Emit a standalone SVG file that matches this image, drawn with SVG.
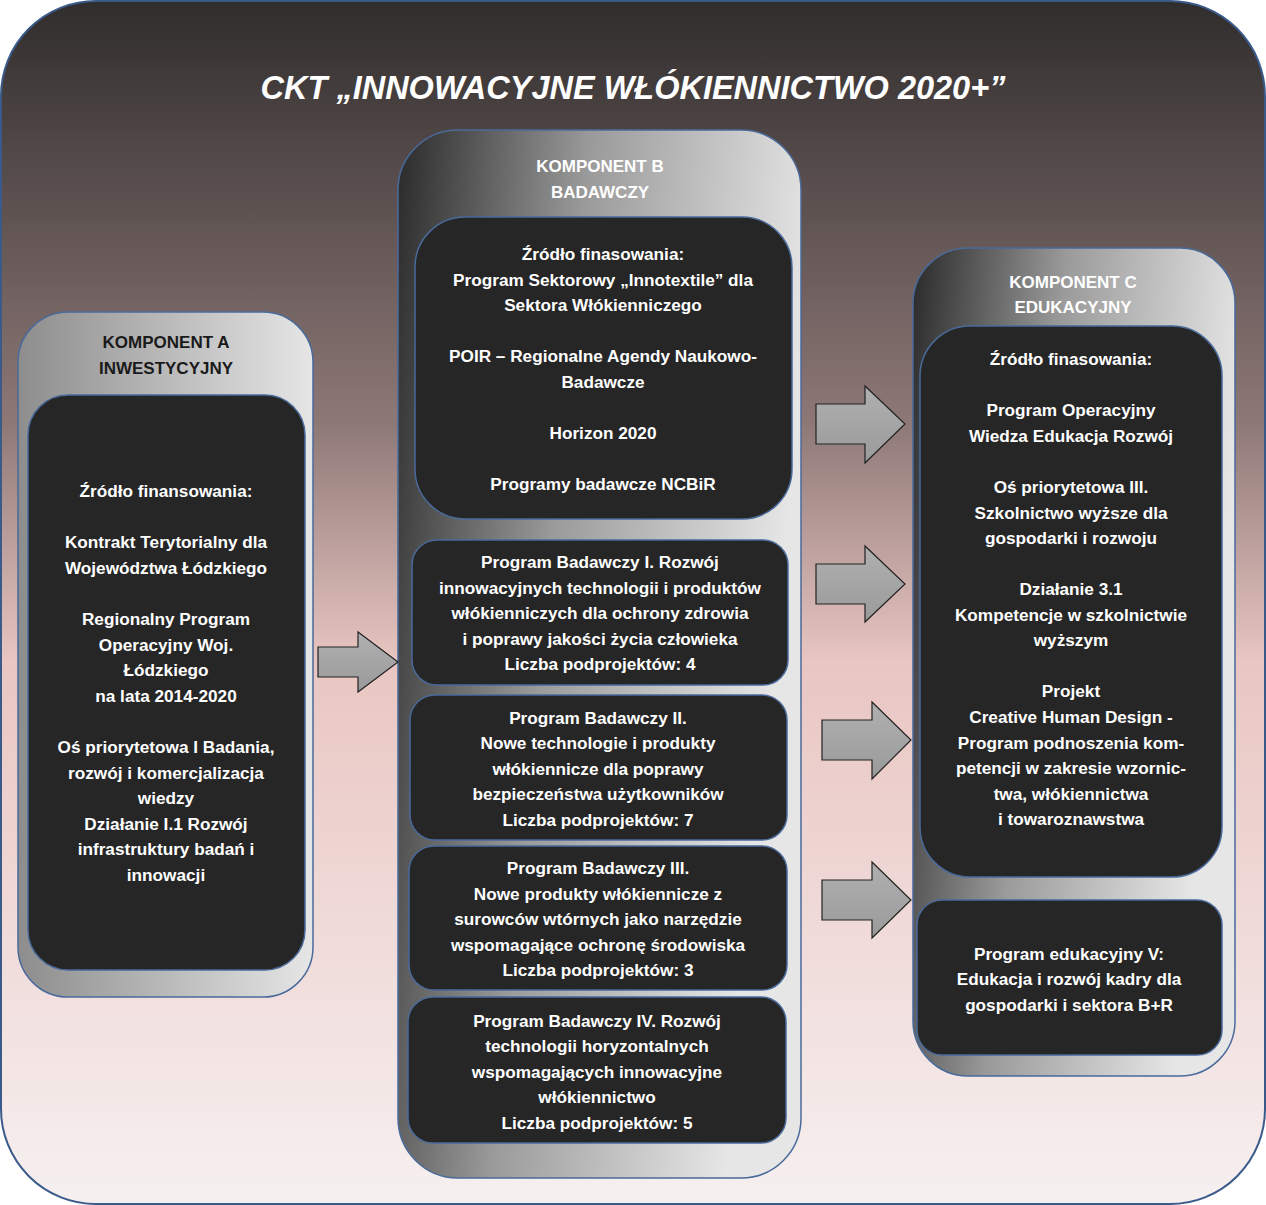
<svg xmlns="http://www.w3.org/2000/svg" width="1266" height="1205" viewBox="0 0 1266 1205">
<defs>
<linearGradient id="bg" x1="0" y1="0" x2="0" y2="1">
<stop offset="0" stop-color="#302d2d"/><stop offset="0.35" stop-color="#8d7876"/><stop offset="0.55" stop-color="#e9c6c2"/><stop offset="1" stop-color="#f6f0f0"/>
</linearGradient>
<linearGradient id="pan" x1="0" y1="0" x2="1" y2="0.25">
<stop offset="0" stop-color="#2a2a2a"/><stop offset="0.45" stop-color="#9a9a9a"/><stop offset="1" stop-color="#e6e6e6"/>
</linearGradient>
<linearGradient id="panA" x1="0" y1="0" x2="1" y2="0">
<stop offset="0" stop-color="#8d8d8d"/><stop offset="1" stop-color="#e6e6e6"/>
</linearGradient>
<linearGradient id="arr" x1="0" y1="0" x2="0" y2="1">
<stop offset="0" stop-color="#b0b0b0"/><stop offset="1" stop-color="#9a9a9a"/>
</linearGradient>
</defs>
<style>
.panel{stroke:#4a6a9a;stroke-width:1.5}
.box{fill:#262626;stroke:#4a6a9a;stroke-width:1.5}
.ph{font-family:"Liberation Sans",Arial,sans-serif;font-weight:bold;font-size:17px;text-anchor:middle;fill:#1a1a1a}
.ph2{font-family:"Liberation Sans",Arial,sans-serif;font-weight:bold;font-size:17px;text-anchor:middle;fill:#ffffff}
.t{font-family:"Liberation Sans",Arial,sans-serif;font-weight:bold;font-size:17.2px;text-anchor:middle;fill:#ffffff}
.arrow{fill:url(#arr);stroke:#222;stroke-width:1.2}
</style>
<rect x="1" y="1" width="1264" height="1203" rx="95" fill="url(#bg)" stroke="#3a5a8a" stroke-width="2"/>
<text x="633" y="99" font-family="Liberation Sans,Arial,sans-serif" font-weight="bold" font-style="italic" font-size="32.5" fill="#ffffff" text-anchor="middle">CKT „INNOWACYJNE WŁÓKIENNICTWO 2020+”</text>

<g id="compA">
<rect class="panel" x="18" y="312" width="295" height="685" rx="50" fill="url(#panA)"/>
<text class="ph" x="166" y="348">KOMPONENT A</text>
<text class="ph" x="166" y="374">INWESTYCYJNY</text>
<rect class="box" x="28" y="395" width="277" height="575" rx="40"/>
<text class="t" x="166" y="497">Źródło finansowania:</text>
<text class="t" x="166" y="548">Kontrakt Terytorialny dla</text>
<text class="t" x="166" y="574">Województwa Łódzkiego</text>
<text class="t" x="166" y="625">Regionalny Program</text>
<text class="t" x="166" y="651">Operacyjny Woj.</text>
<text class="t" x="166" y="676">Łódzkiego</text>
<text class="t" x="166" y="702">na lata 2014-2020</text>
<text class="t" x="166" y="753">Oś priorytetowa I Badania,</text>
<text class="t" x="166" y="779">rozwój i komercjalizacja</text>
<text class="t" x="166" y="804">wiedzy</text>
<text class="t" x="166" y="830">Działanie I.1 Rozwój</text>
<text class="t" x="166" y="855">infrastruktury badań i</text>
<text class="t" x="166" y="881">innowacji</text>
</g>

<g id="compB">
<rect class="panel" x="398" y="130" width="403" height="1048" rx="60" fill="url(#pan)"/>
<text class="ph2" x="600" y="172">KOMPONENT B</text>
<text class="ph2" x="600" y="198">BADAWCZY</text>
<g id="b0"><rect class="box" x="415" y="217" width="377" height="302" rx="50"/>
<text class="t" x="603" y="260">Źródło finasowania:</text>
<text class="t" x="603" y="286">Program Sektorowy „Innotextile” dla</text>
<text class="t" x="603" y="311">Sektora Włókienniczego</text>
<text class="t" x="603" y="362">POIR – Regionalne Agendy Naukowo-</text>
<text class="t" x="603" y="388">Badawcze</text>
<text class="t" x="603" y="439">Horizon 2020</text>
<text class="t" x="603" y="490">Programy badawcze NCBiR</text></g>
<g id="b1"><rect class="box" x="412" y="540" width="376" height="145" rx="25"/>
<text class="t" x="600" y="568">Program Badawczy  I. Rozwój</text>
<text class="t" x="600" y="594">innowacyjnych technologii i produktów</text>
<text class="t" x="600" y="619">włókienniczych dla ochrony zdrowia</text>
<text class="t" x="600" y="645">i poprawy jakości życia człowieka</text>
<text class="t" x="600" y="670">Liczba podprojektów: 4</text></g>
<g id="b2"><rect class="box" x="410" y="695" width="377" height="145" rx="25"/>
<text class="t" x="598" y="724">Program  Badawczy II.</text>
<text class="t" x="598" y="749">Nowe technologie i produkty</text>
<text class="t" x="598" y="775">włókiennicze dla poprawy</text>
<text class="t" x="598" y="800">bezpieczeństwa  użytkowników</text>
<text class="t" x="598" y="826">Liczba podprojektów: 7</text></g>
<g id="b3"><rect class="box" x="409" y="846" width="378" height="144" rx="25"/>
<text class="t" x="598" y="874">Program Badawczy III.</text>
<text class="t" x="598" y="900">Nowe produkty włókiennicze z</text>
<text class="t" x="598" y="925">surowców wtórnych jako narzędzie</text>
<text class="t" x="598" y="951">wspomagające ochronę środowiska</text>
<text class="t" x="598" y="976">Liczba podprojektów: 3</text></g>
<g id="b4"><rect class="box" x="408" y="997" width="378" height="146" rx="25"/>
<text class="t" x="597" y="1027">Program Badawczy IV. Rozwój</text>
<text class="t" x="597" y="1052">technologii horyzontalnych</text>
<text class="t" x="597" y="1078">wspomagających innowacyjne</text>
<text class="t" x="597" y="1103">włókiennictwo</text>
<text class="t" x="597" y="1129">Liczba podprojektów: 5</text></g>
</g>

<g id="compC">
<rect class="panel" x="913" y="248" width="322" height="828" rx="55" fill="url(#pan)"/>
<text class="ph2" x="1073" y="288">KOMPONENT C</text>
<text class="ph2" x="1073" y="313">EDUKACYJNY</text>
<g id="c0"><rect class="box" x="920" y="326" width="302" height="551" rx="50"/>
<text class="t" x="1071" y="365">Źródło finasowania:</text>
<text class="t" x="1071" y="416">Program Operacyjny</text>
<text class="t" x="1071" y="442">Wiedza Edukacja Rozwój</text>
<text class="t" x="1071" y="493">Oś priorytetowa III.</text>
<text class="t" x="1071" y="519">Szkolnictwo wyższe dla</text>
<text class="t" x="1071" y="544">gospodarki i rozwoju</text>
<text class="t" x="1071" y="595">Działanie 3.1</text>
<text class="t" x="1071" y="621">Kompetencje w szkolnictwie</text>
<text class="t" x="1071" y="646">wyższym</text>
<text class="t" x="1071" y="697">Projekt</text>
<text class="t" x="1071" y="723">Creative Human Design -</text>
<text class="t" x="1071" y="749">Program podnoszenia kom-</text>
<text class="t" x="1071" y="774">petencji w zakresie wzornic-</text>
<text class="t" x="1071" y="800">twa, włókiennictwa</text>
<text class="t" x="1071" y="825">i towaroznawstwa</text></g>
<g id="c1"><rect class="box" x="917" y="900" width="305" height="155" rx="25"/>
<text class="t" x="1069" y="960">Program edukacyjny V:</text>
<text class="t" x="1069" y="985">Edukacja i rozwój kadry dla</text>
<text class="t" x="1069" y="1011">gospodarki  i  sektora B+R</text></g>
</g>

<g id="connectors">
<polygon class="arrow" points="318,647 358,647 358,632 398,662 358,692 358,677 318,677"/>
<polygon class="arrow" points="816,404 865,404 865,386 905,424 865,463 865,444 816,444"/>
<polygon class="arrow" points="816,564 865,564 865,546 905,584 865,622 865,604 816,604"/>
<polygon class="arrow" points="822,720 872,720 872,702 911,740 872,779 872,760 822,760"/>
<polygon class="arrow" points="822,880 872,880 872,862 911,900 872,938 872,920 822,920"/>
</g>
</svg>
